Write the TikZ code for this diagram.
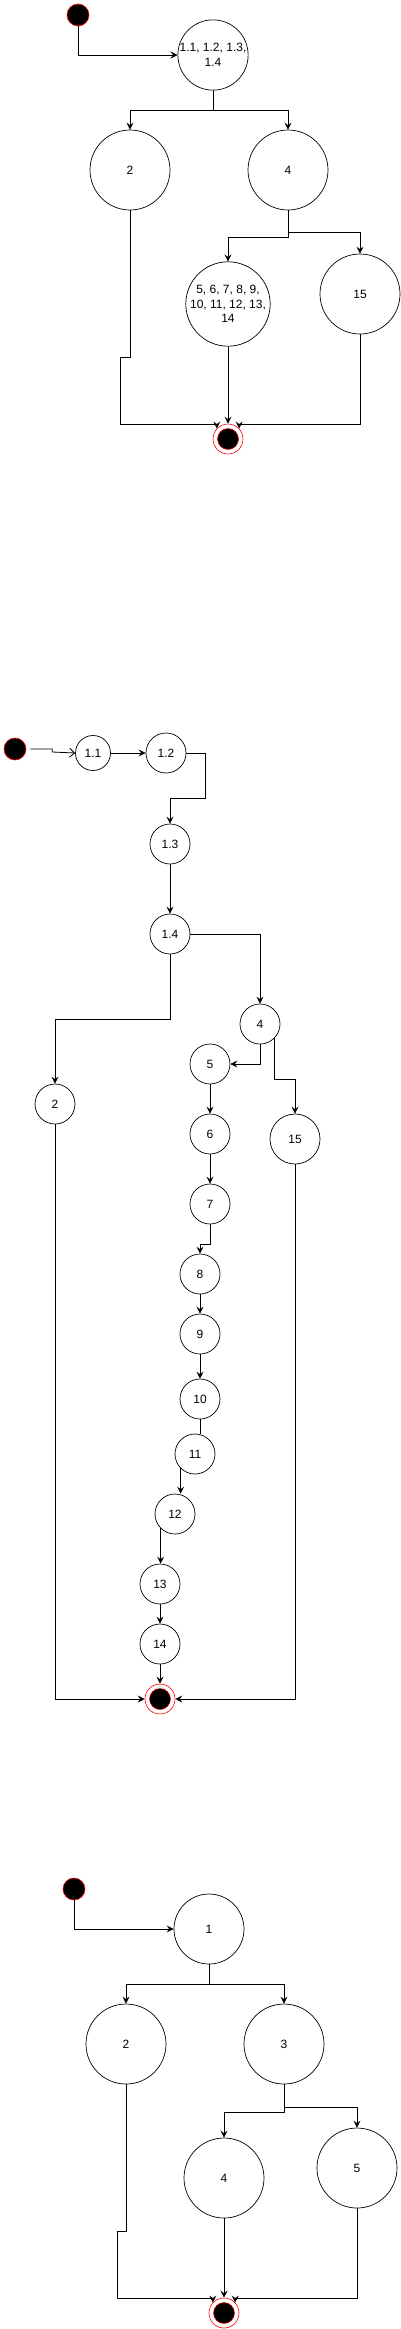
\documentclass[tikz,border=0pt]{standalone}
\usepackage{fontspec}
\setmainfont{Liberation Sans}
\usepackage{tikz}
\usetikzlibrary{arrows.meta,calc,positioning}

\begin{document}
\begin{tikzpicture}[x=1pt,y=-1pt,
    state/.style={circle, draw, line width=0.7pt, inner sep=0pt, minimum size=#1,
      align=center, font=\fontsize{12}{14.5}\selectfont},
    initdot/.style={circle, fill=black, draw=red, line width=0.6pt, inner sep=0pt, minimum size=22pt},
    finaldot/.style={circle, fill=white, draw=red, line width=0.6pt, inner sep=0pt, minimum size=30pt,
      path picture={\filldraw[fill=black,draw=red,line width=0.5pt] (path picture bounding box.center) circle (10.5pt);}},
    flow/.style={-{Stealth[length=7pt,width=7pt,inset=2.5pt]}, line width=0.8pt},
    openflow/.style={-{Straight Barb[length=5pt,width=9pt]}, line width=0.8pt}]
        \useasboundingbox (0,0) rectangle (401,2329);

        %Graph 1
        \node[initdot] (s1) at (78,15) {};
        \node[state=70pt] (a1) at (213,55) {1.1, 1.2, 1.3,\\1.4};
        \node[state=80pt] (a2) at (130,170) {2};
        \node[state=80pt] (a4) at (288,170) {4};
        \node[state=80pt] (a5) at (228,304) {5, 6, 7, 8, 9,\\10, 11, 12, 13,\\14};
        \node[state=80pt] (a15) at (360,294) {15};
        \node[finaldot] (e1) at (228,439) {};
        \draw[flow] (s1) |- (a1);
        \draw[flow] (a1.south) -- ++(0,20) -| (a2.north);
        \draw[flow] (a1.south) -- ++(0,20) -| (a4.north);
        \draw[flow] (a4.south) -- ++(0,27) -| (a5.north);
        \draw[flow] (a4.south) -- ++(0,22) -| (a15.north);
        \draw[flow] (a2.south) -- ++(0,147) -- ++(-10,0) -- ++(0,67) -| (e1.137);
        \draw[flow] (a5) -- (e1);
        \draw[flow] (a15.south) -- ++(0,90) -| (e1.43);

        %Graph 2
        \node[initdot] (s2) at (15,749) {};
        \node[state=35pt] (b1p1) at (93,753) {1.1};
        \node[state=40pt] (b1p2) at (166,753) {1.2};
        \node[state=40pt] (b1p3) at (170,844) {1.3};
        \node[state=40pt] (b1p4) at (170,934) {1.4};
        \node[state=40pt] (b4) at (260,1024) {4};
        \node[state=40pt] (b2) at (55,1104) {2};
        \node[state=40pt] (b5) at (210,1064) {5};
        \node[state=50pt] (b15) at (295,1139) {15};
        \node[state=40pt] (b6) at (210,1134) {6};
        \node[state=40pt] (b7) at (210,1204) {7};
        \node[state=40pt] (b8) at (200,1274) {8};
        \node[state=40pt] (b9) at (200,1334) {9};
        \node[state=40pt] (b10) at (200,1399) {10};
        \node[state=40pt] (b11) at (195,1454) {11};
        \node[state=40pt] (b12) at (175,1514) {12};
        \node[state=40pt] (b13) at (160,1584) {13};
        \node[state=40pt] (b14) at (160,1644) {14};
        \node[finaldot] (e2) at (160,1699) {};
        \draw[openflow] (s2.east) ++(4,0) -- ++(22,0) -- ++(0,3) -- (b1p1.west);
        \draw[flow] (b1p1) -- (b1p2);
        \draw[flow] (b1p2.east) -| ++(19,45) -| (b1p3.north);
        \draw[flow] (b1p3) -- (b1p4);
        \draw[flow] (b1p4.east) -| (b4.north);
        \draw[flow] (b1p4.south) -- ++(0,65) -| (b2.north);
        \draw[flow] (b4.south) |- (b5.east);
        \draw[flow] (b4.-45) -- ++(0,41) -| (b15.north);
        \draw[flow] (b5) -- (b6);
        \draw[flow] (b6) -- (b7);
        \draw[flow] (b7.south) -- ++(0,20) -| (b8.north);
        \draw[flow] (b8) -- (b9);
        \draw[flow] (b9) -- (b10);
        \draw[line width=0.8pt] (b10.south) -- (b10.south |- b11.north);
        \draw[flow] (b11.-135) -- (b11.-135 |- b12.north);
        \draw[flow] (b12.-135) -- (b12.-135 |- b13.north);
        \draw[flow] (b13) -- (b14);
        \draw[flow] (b14) -- (e2);
        \draw[flow] (b2.south) |- (e2.west);
        \draw[flow] (b15.south) |- (e2.east);

        %Graph 3
        \node[initdot] (s3) at (74,1889) {};
        \node[state=70pt] (c1) at (209,1929) {1};
        \node[state=80pt] (c2) at (126,2044) {2};
        \node[state=80pt] (c3) at (284,2044) {3};
        \node[state=80pt] (c4) at (224,2178) {4};
        \node[state=80pt] (c5) at (357,2168) {5};
        \node[finaldot] (e3) at (224,2313) {};
        \draw[flow] (s3) |- (c1);
        \draw[flow] (c1.south) -- ++(0,20) -| (c2.north);
        \draw[flow] (c1.south) -- ++(0,20) -| (c3.north);
        \draw[flow] (c3.south) -- ++(0,28) -| (c4.north);
        \draw[flow] (c3.south) -- ++(0,23) -| (c5.north);
        \draw[flow] (c2.south) -- ++(0,147) -- ++(-9,0) -- ++(0,67) -| (e3.137);
        \draw[flow] (c4) -- (e3);
        \draw[flow] (c5.south) -- ++(0,90) -| (e3.43);
      \end{tikzpicture}
\end{document}
